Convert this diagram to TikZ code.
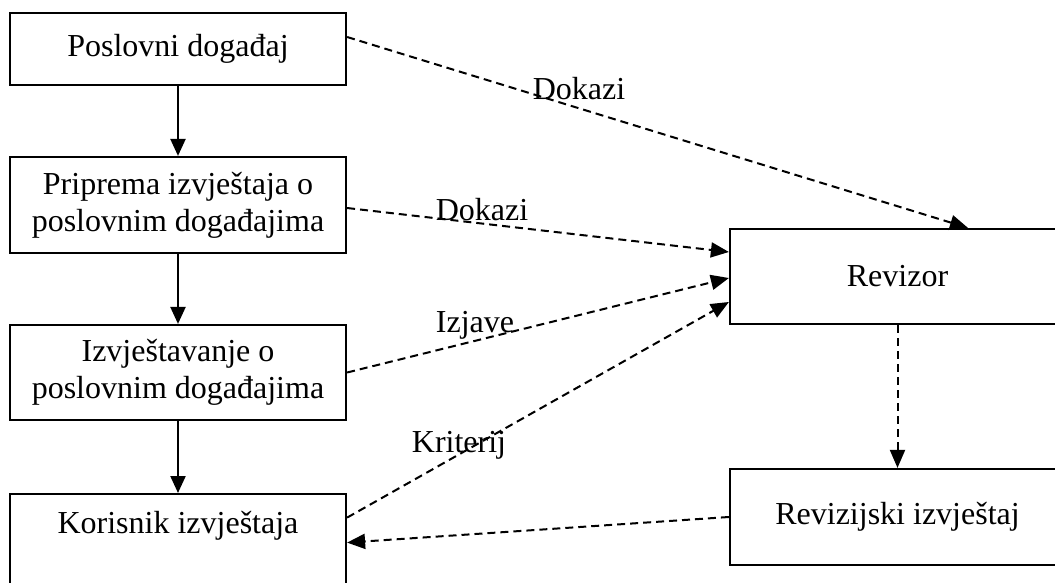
\documentclass[tikz,border=0pt]{standalone}
\usepackage{fontspec}
\setmainfont{Liberation Serif}
\usetikzlibrary{arrows.meta}
\begin{document}
\begin{tikzpicture}[x=1pt,y=-1pt,
  box/.style={draw, line width=2.2pt, minimum width=336pt, inner sep=0pt, align=center, font=\fontsize{32}{37}\selectfont},
  flow/.style={line width=2.2pt, -{Triangle[length=17pt,width=15pt]}},
  dep/.style={line width=2pt, dash pattern=on 8pt off 5pt, -{Triangle[length=18pt,width=15pt]}},
  lbl/.style={font=\fontsize{32}{37}\selectfont, anchor=base, inner sep=0pt}]
\useasboundingbox (0,0) rectangle (1055,583);
\clip (0,0) rectangle (1055,583);
\node[box, minimum height=72pt] (b1) at (178,49) {Poslovni događaj};
\node[box, minimum height=96pt] (b2) at (178,205) {Priprema izvještaja o\\poslovnim događajima};
\node[box, minimum height=95pt] (b3) at (178,372.5) {Izvještavanje o\\poslovnim događajima};
\node[box, anchor=north, text height=39pt, text depth=58pt] (b4) at (178,493) {Korisnik izvještaja};
\node[box, minimum width=335pt, minimum height=95pt] (rv) at (897.5,276.5) {Revizor};
\node[box, minimum width=335pt, minimum height=96pt] (rz) at (897.5,517) {Revizijski izvještaj};
\draw[flow] (b1) -- (b2);
\draw[flow] (b2) -- (b3);
\draw[flow] (b3) -- (b4);
\draw[dep] ([yshift=12pt]b1.east) -- ([xshift=70.5pt]rv.north);
\draw[dep] ([yshift=-3pt]b2.east) -- ([yshift=24.5pt]rv.west);
\draw[dep] (b3.east) -- ([yshift=-1.5pt]rv.west);
\draw[dep] ([yshift=25pt]b4.east) -- ([yshift=-25.5pt]rv.west);
\draw[dep] (rv.south) -- (rz.north);
\draw[dep] (rz.west) -- (b4.east);
\node[lbl] (l1) at (579,100) {Dokazi};
\node[lbl] (l2) at (482,220) {Dokazi};
\node[lbl] (l3) at (475,332) {Izjave};
\node[lbl] (l4) at (459,452) {Kriterij};
\end{tikzpicture}
\end{document}
